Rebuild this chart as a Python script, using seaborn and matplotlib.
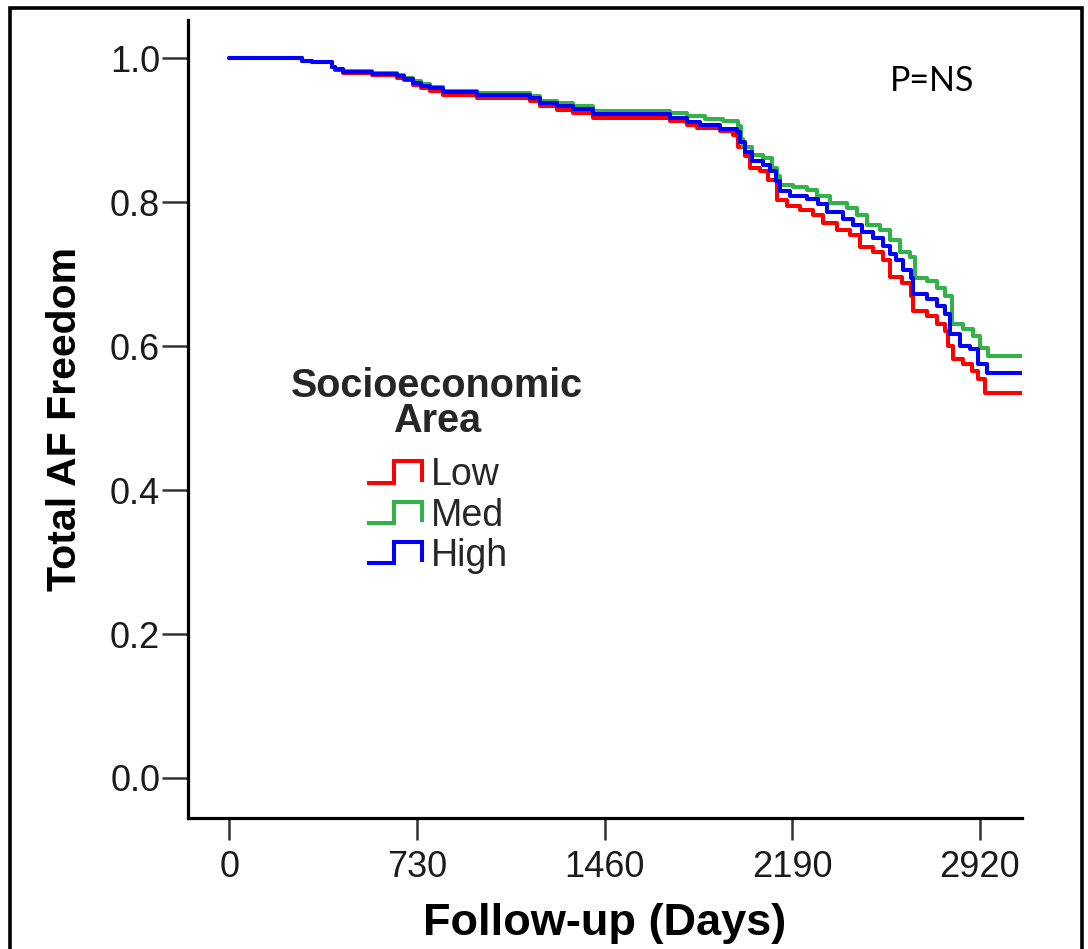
import matplotlib
matplotlib.use("Agg")
import matplotlib.pyplot as plt
from matplotlib.lines import Line2D
from matplotlib.legend_handler import HandlerBase
from matplotlib.patches import Rectangle
import seaborn as sns
import pandas as pd

# ---- data ----
low_days = [0, 281, 320, 398, 411, 443, 553, 651, 680, 715, 745, 780, 832, 962, 1169, 1208, 1273, 1338, 1416,
            1714, 1779, 1818, 1909, 1960, 1980, 2006, 2025, 2064, 2097, 2129, 2168, 2220, 2272, 2311, 2363, 2415,
            2454, 2505, 2544, 2570, 2616, 2654, 2661, 2713, 2752, 2784, 2797, 2816, 2855, 2888, 2913, 2940, 3085]
low_surv = [1.000, 0.996, 0.994, 0.988, 0.984, 0.979, 0.976, 0.973, 0.969, 0.963, 0.958, 0.954, 0.949, 0.945,
            0.940, 0.933, 0.928, 0.924, 0.917, 0.912, 0.907, 0.903, 0.899, 0.893, 0.876, 0.864, 0.848, 0.843,
            0.831, 0.803, 0.794, 0.789, 0.782, 0.771, 0.761, 0.754, 0.738, 0.731, 0.719, 0.696, 0.687, 0.670,
            0.649, 0.642, 0.631, 0.621, 0.600, 0.582, 0.575, 0.566, 0.554, 0.535, 0.535]

med_days = [0, 281, 320, 398, 411, 443, 553, 651, 680, 715, 745, 780, 832, 962, 1169, 1208, 1273, 1338, 1416,
            1714, 1779, 1850, 1921, 1980, 1990, 2000, 2032, 2077, 2110, 2130, 2142, 2194, 2246, 2285, 2337, 2402,
            2441, 2480, 2531, 2570, 2609, 2648, 2667, 2713, 2752, 2784, 2810, 2855, 2894, 2920, 2952, 3085]
med_surv = [1.000, 0.996, 0.994, 0.988, 0.985, 0.982, 0.979, 0.976, 0.973, 0.968, 0.964, 0.960, 0.955, 0.951,
            0.947, 0.941, 0.937, 0.934, 0.927, 0.924, 0.920, 0.916, 0.913, 0.906, 0.887, 0.876, 0.866, 0.861,
            0.848, 0.836, 0.824, 0.821, 0.817, 0.808, 0.799, 0.792, 0.782, 0.768, 0.761, 0.747, 0.731, 0.724,
            0.694, 0.691, 0.680, 0.670, 0.631, 0.624, 0.614, 0.598, 0.586, 0.586]

high_days = [0, 281, 320, 398, 411, 443, 553, 651, 680, 715, 745, 780, 832, 962, 1169, 1208, 1273, 1338, 1416,
             1714, 1779, 1831, 1909, 1974, 1986, 2006, 2032, 2077, 2103, 2125, 2142, 2181, 2246, 2291, 2324, 2388,
             2427, 2460, 2505, 2544, 2570, 2595, 2622, 2654, 2661, 2713, 2752, 2784, 2803, 2842, 2881, 2913, 2946, 3085]
high_surv = [1.000, 0.996, 0.994, 0.988, 0.985, 0.981, 0.978, 0.975, 0.971, 0.966, 0.962, 0.958, 0.953, 0.949,
             0.945, 0.938, 0.933, 0.929, 0.922, 0.917, 0.911, 0.907, 0.902, 0.897, 0.883, 0.869, 0.857, 0.852,
             0.843, 0.830, 0.815, 0.808, 0.804, 0.797, 0.786, 0.776, 0.768, 0.758, 0.750, 0.739, 0.728, 0.719,
             0.706, 0.694, 0.673, 0.666, 0.656, 0.645, 0.617, 0.600, 0.596, 0.575, 0.562, 0.562]

groups = ["Low", "Med", "High"]
colors = {"Low": "#ff0000", "Med": "#33b24a", "High": "#0000ff"}
x_ticks = [0, 730, 1460, 2190, 2920]
y_ticks = [0.0, 0.2, 0.4, 0.6, 0.8, 1.0]

df = pd.concat([
    pd.DataFrame({"day": low_days, "surv": low_surv, "group": "Low"}),
    pd.DataFrame({"day": med_days, "surv": med_surv, "group": "Med"}),
    pd.DataFrame({"day": high_days, "surv": high_surv, "group": "High"}),
], ignore_index=True)

sns.set_theme(style="white")
plt.rcParams["font.family"] = ["Liberation Sans", "DejaVu Sans"]

fig = plt.figure(figsize=(10.88, 9.49), dpi=100)
ax = fig.add_axes([188/1088, 1 - 818/949, 834/1088, 798/949])

sns.lineplot(data=df, x="day", y="surv", hue="group", hue_order=groups, palette=colors,
             estimator=None, sort=True, drawstyle="steps-post", linewidth=2.9, legend=False, ax=ax)

ax.set_xlim(-161, 3084)
ax.set_ylim(-0.0556, 1.053)
ax.set_xticks(x_ticks)
ax.set_xticklabels([str(t) for t in x_ticks])
ax.set_yticks(y_ticks)
ax.set_yticklabels([f"{t:.1f}" for t in y_ticks])

for s in ["top", "right"]:
    ax.spines[s].set_visible(False)
for s in ["left", "bottom"]:
    ax.spines[s].set_visible(True)
    ax.spines[s].set_color("black")
    ax.spines[s].set_linewidth(2.3)

ax.tick_params(axis="y", direction="out", length=19, width=1.8, color="#333333", pad=1,
               labelsize=26, labelcolor="#1a1a1a", left=True)
ax.tick_params(axis="x", direction="out", length=16, width=1.8, color="#333333", pad=7,
               labelsize=26, labelcolor="#1a1a1a", bottom=True)

ax.set_xlabel("Follow-up (Days)", fontsize=32.5, fontweight="bold", color="black")
ax.set_ylabel("Total AF Freedom", fontsize=29.5, fontweight="bold", color="black")
ax.xaxis.set_label_coords(0.5, -0.106)
ax.yaxis.set_label_coords(-0.125, 0.5)

ax.text(0.892, 0.923, "P=NS", transform=ax.transAxes, ha="center", va="center",
        fontsize=24.5, family=["Lato", "DejaVu Sans"], color="black")


class StepHandler(HandlerBase):
    def create_artists(self, legend, orig_handle, xdescent, ydescent, width, height, fontsize, trans):
        x0, y0 = -xdescent, -ydescent
        xs = [x0, x0 + 0.5 * width, x0 + 0.5 * width, x0 + width, x0 + width]
        ys = [y0, y0, y0 + height, y0 + height, y0 + 0.05 * height]
        ln = Line2D(xs, ys, color=orig_handle.get_color(), linewidth=orig_handle.get_linewidth(),
                    solid_joinstyle="miter", solid_capstyle="butt")
        ln.set_transform(trans)
        return [ln]


handles = [Line2D([], [], color=colors[g], linewidth=2.9) for g in groups]
leg = ax.legend(handles, groups, title="Socioeconomic\nArea", loc="upper center",
                bbox_to_anchor=(0.299, 0.598), frameon=False, fontsize=27,
                handlelength=1.47, handleheight=0.5, handletextpad=0.25, labelspacing=0.11,
                borderpad=0.2, handler_map={Line2D: StepHandler()})
leg.get_title().set_fontsize(28.5)
leg.get_title().set_fontweight("bold")
leg.get_title().set_multialignment("center")
leg.get_title().set_linespacing(0.9)
leg._legend_box.align = "center"
leg._legend_box.sep = 12.5

fig.patches.append(Rectangle((10/1088, -0.05), (1082 - 10)/1088, (949 - 8)/949 + 0.05,
                             transform=fig.transFigure, fill=False, edgecolor="black",
                             linewidth=2.6, clip_on=False))

fig.savefig("out.png", dpi=100, facecolor="white")
